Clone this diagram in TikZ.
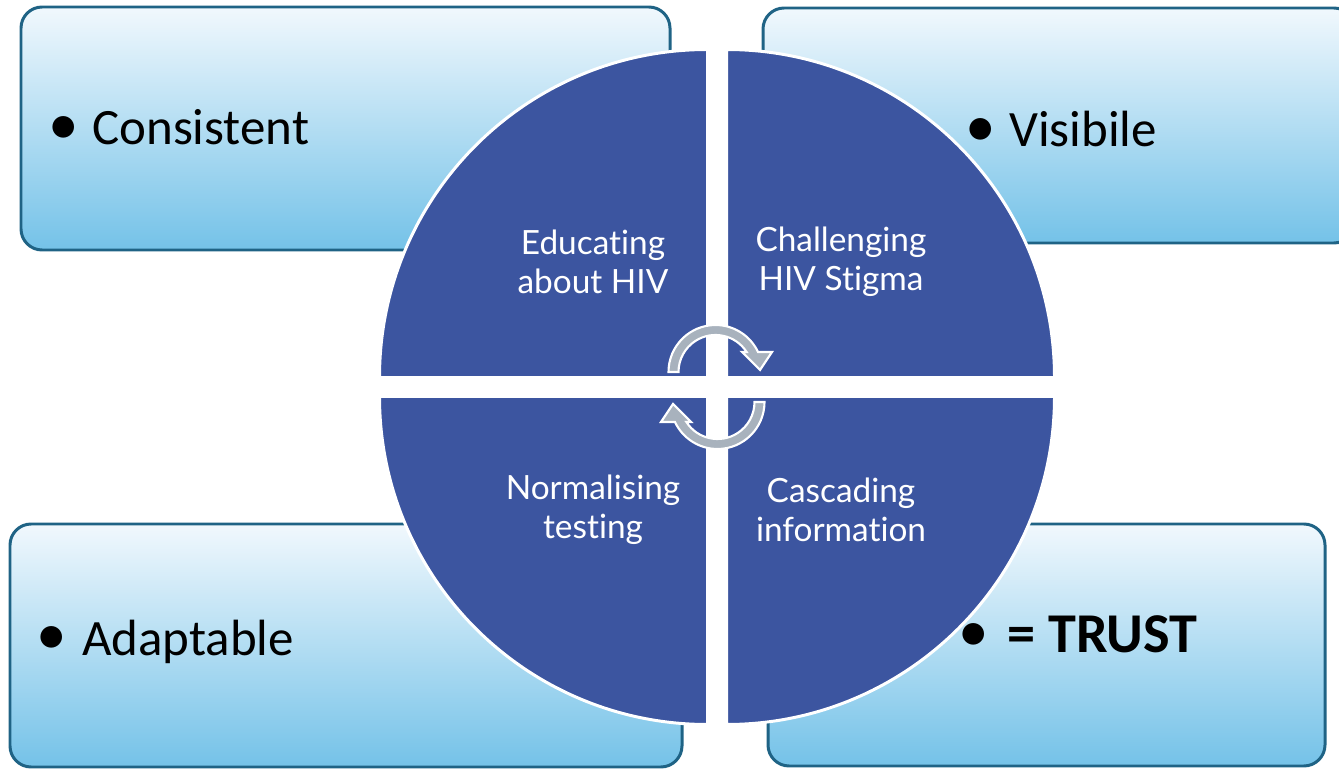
\documentclass[tikz,border=0pt]{standalone}
\usepackage{fontspec}
\setmainfont[RawFeature=-liga]{Carlito}
\newfontfamily\quadfont[RawFeature=-liga]{Lato}

\definecolor{boxtop}{RGB}{241,248,253}
\definecolor{boxbottom}{RGB}{116,194,232}
\definecolor{boxedge}{RGB}{31,99,133}
\definecolor{quadblue}{RGB}{60,85,160}
\definecolor{arrowgray}{RGB}{168,178,189}

\newcommand\bulletline[2]{\makebox[#1][l]{\scalebox{1.2}{\textbullet}}#2}

\tikzset{
  infobox/.style={draw=boxedge, line width=1.7pt, rounded corners=12pt,
    top color=boxtop, bottom color=boxbottom},
  quad/.style={fill=quadblue, draw=white, line width=1.7pt},
  quadtext/.style={text=white, align=center, inner sep=0pt,
    font=\quadfont\fontsize{19}{22}\selectfont},
  boxtext/.style={anchor=base west, inner sep=0pt,
    font=\fontsize{29}{34}\selectfont},
  turn/.style={fill=arrowgray, draw=white, line width=1.2pt, line join=miter}
}

\begin{document}
\begin{tikzpicture}[x=0.02cm, y=0.02cm]
\useasboundingbox (0,0) rectangle (1339,768);

% boxes
\shadedraw[infobox] (21,518) rectangle (670,761);
\shadedraw[infobox] (763,525) rectangle (1355,760);
\shadedraw[infobox] (10,1) rectangle (682,244);
\shadedraw[infobox] (768,2) rectangle (1325,244);

% circle in four parts
\filldraw[quad] (707.5,390.5) -- (379.5,390.5) arc[start angle=180, end angle=90, radius=328] -- cycle;
\filldraw[quad] (726.5,390.5) -- (726.5,718.5) arc[start angle=90, end angle=0, radius=328] -- cycle;
\filldraw[quad] (707.5,371.5) -- (707.5,43.5) arc[start angle=270, end angle=180, radius=328] -- cycle;
\filldraw[quad] (726.5,371.5) -- (1054.5,371.5) arc[start angle=0, end angle=-90, radius=328] -- cycle;

\node[quadtext] (edu) at (593,506) {Educating\\about HIV};
\node[quadtext] (chal) at (841,506) {Challenging\\HIV Stigma};
\node[quadtext] (norm) at (593,258) {Normalising\\testing};
\node[quadtext] (casc) at (841,258) {Cascading\\information};

% turning arrows
\foreach \r in {0,180}
{
\begin{scope}[shift={(716.5,381)}, rotate=\r]
\begin{scope}[shift={(-1,15)}]
\filldraw[turn] (180:37) -- (180:47) arc[start angle=180, end angle=25.2, radius=47]
  -- (56.5,20) -- (44.5,2) -- (26.5,20) -- (32.7:37)
  arc[start angle=32.7, end angle=180, radius=37] -- cycle;
\end{scope}
\end{scope}
}

% texts in boxes
\node[boxtext] (consistent) at (48,623) {\bulletline{25pt}{Consistent}};
\node[boxtext] (visible) at (965,621) {\bulletline{25pt}{Visibile}};
\node[boxtext] (adaptable) at (36,113) {\bulletline{26pt}{Adaptable}};
\node[boxtext] (trust) at (958,116) {\bulletline{28pt}{\fontsize{32}{36}\selectfont\bfseries = TRUST}};
\end{tikzpicture}
\end{document}
